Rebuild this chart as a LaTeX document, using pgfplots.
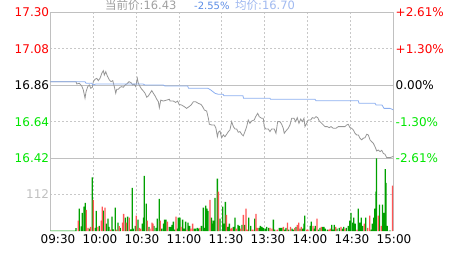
\documentclass[border=0pt]{standalone}
\usepackage{pgfplots}
\pgfplotsset{compat=1.18}
\usepackage{fontspec}
\setmainfont{DejaVu Sans}
\newfontfamily\cjk{Noto Sans CJK SC}
\definecolor{gridc}{RGB}{200,200,200}
\definecolor{framec}{RGB}{192,192,192}
\definecolor{upred}{RGB}{255,0,0}
\definecolor{dngreen}{RGB}{0,230,0}
\definecolor{barg}{RGB}{0,160,0}
\definecolor{barr}{RGB}{255,85,85}
\definecolor{pricec}{RGB}{150,150,150}
\definecolor{avgc}{RGB}{140,175,240}
\definecolor{ttlgray}{RGB}{160,160,160}
\definecolor{ttlblue}{RGB}{90,140,230}
\definecolor{ttllblue}{RGB}{160,185,240}
\definecolor{volgray}{RGB}{192,192,192}
\begin{document}
\begin{tikzpicture}[x=1pt,y=1pt,every node/.style={font=\fontsize{12}{14}\selectfont, inner sep=0pt}]
\useasboundingbox (0,0) rectangle (463,255);
\pgfplotsset{
  mygrid/.style={grid=major, major grid style={dash pattern=on 2pt off 2pt, draw=gridc, line width=0.7pt},
    major tick length=0pt, xticklabels={}, yticklabels={}},
}
% ---------- price panel ----------
\begin{axis}[at={(50.3pt,96.7pt)}, anchor=south west, width=343pt, height=146pt, scale only axis,
  xmin=0, xmax=240, ymin=16.42, ymax=17.30,
  xtick={30,60,...,210}, ytick={17.08,16.64},
  extra y ticks={16.86}, extra y tick labels={},
  extra y tick style={major grid style={solid, draw=framec, line width=0.8pt}},
  mygrid,
  axis line style={draw=framec, line width=0.8pt}]
\addplot[pricec, line width=0.8pt] coordinates {
(0,16.882) (18.0,16.882) (18.5,16.868) (20.3,16.872) (22.0,16.856) (23.1,16.832) (24.3,16.782) (25.0,16.821) (26.2,16.852) (27.3,16.862) (28.3,16.842) (29.4,16.848) (30.1,16.882) (31.3,16.896) (32.5,16.902) (33.6,16.888) (34.8,16.902) (36.0,16.932) (37.1,16.948) (37.8,16.922) (38.8,16.942) (39.9,16.916) (41.3,16.892) (42.5,16.882) (43.7,16.888) (44.8,16.852) (45.8,16.812) (46.5,16.836) (47.6,16.836) (48.8,16.848) (50.0,16.852) (51.1,16.848) (52.3,16.862) (53.5,16.868) (55.1,16.882) (56.5,16.876) (57.7,16.862) (58.6,16.868) (59.8,16.852) (60.9,16.902) (61.6,16.872) (62.8,16.852) (64.0,16.836) (65.1,16.826) (66.3,16.812) (67.5,16.788) (68.6,16.796) (69.8,16.812) (71.0,16.828) (72.1,16.812) (73.3,16.796) (74.5,16.776) (75.6,16.761) (76.3,16.725) (77.3,16.771) (79.1,16.765) (81.5,16.771) (83.3,16.776) (83.8,16.765) (86.1,16.765) (87.7,16.757) (89.1,16.765) (90.1,16.745) (91.9,16.741) (93.8,16.731) (95.4,16.721) (97.0,16.731) (98.5,16.741) (100.1,16.761) (101.7,16.761) (103.6,16.751) (105.4,16.745) (106.6,16.731) (107.8,16.711) (109.4,16.705) (110.6,16.661) (111.3,16.625) (112.9,16.621) (114.8,16.621) (115.9,16.601) (116.9,16.550) (117.6,16.577) (118.7,16.585) (119.9,16.544) (121.1,16.561) (122.2,16.550) (123.4,16.565) (124.6,16.581) (125.7,16.591) (126.9,16.641) (128.1,16.611) (129.2,16.597) (130.4,16.597) (131.5,16.577) (132.7,16.581) (133.9,16.565) (135.0,16.555) (136.2,16.581) (137.4,16.611) (138.5,16.651) (139.7,16.631) (140.9,16.645) (142.7,16.651) (143.7,16.671) (145.1,16.691) (146.2,16.671) (147.9,16.661) (149.0,16.661) (149.7,16.611) (150.7,16.597) (152.5,16.597) (153.7,16.581) (154.9,16.597) (156.7,16.597) (157.9,16.571) (159.1,16.641) (160.7,16.641) (161.9,16.625) (163.0,16.601) (163.7,16.571) (164.9,16.585) (166.5,16.601) (167.7,16.621) (168.9,16.661) (170.5,16.661) (171.7,16.641) (172.8,16.665) (174.0,16.631) (175.2,16.657) (176.3,16.641) (177.5,16.661) (178.2,16.611) (179.4,16.631) (180.5,16.651) (182.2,16.651) (183.3,16.665) (184.7,16.661) (185.9,16.671) (187.1,16.665) (188.2,16.645) (189.9,16.631) (191.0,16.621) (192.2,16.611) (193.8,16.611) (195.2,16.605) (196.4,16.611) (198.0,16.601) (199.9,16.601) (201.5,16.611) (203.9,16.611) (206.2,16.611) (207.4,16.621) (208.5,16.625) (209.7,16.605) (210.9,16.601) (212.0,16.591) (213.2,16.571) (214.4,16.561) (215.5,16.561) (216.7,16.541) (217.9,16.531) (219.0,16.541) (220.2,16.544) (221.4,16.565) (222.5,16.561) (223.7,16.531) (224.9,16.520) (226.0,16.511) (227.2,16.490) (228.4,16.464) (229.5,16.470) (230.7,16.460) (231.9,16.468) (233.0,16.450) (234.2,16.444) (235.4,16.424) (237.7,16.424) (239.6,16.430) (240,16.430)
};
\addplot[avgc, line width=0.8pt] coordinates {
(0,16.882) (24.3,16.882) (25.0,16.872) (29.0,16.872) (29.9,16.862) (32.0,16.868) (64.9,16.868) (66.2,16.862) (78.9,16.862) (80.3,16.856) (96.1,16.856) (96.7,16.842) (110.3,16.842) (112.4,16.831) (115.2,16.812) (117.4,16.806) (120.9,16.806) (121.5,16.797) (134.8,16.797) (135.2,16.782) (153.7,16.782) (154.1,16.776) (185.2,16.776) (185.9,16.767) (215.5,16.767) (216.0,16.752) (227.2,16.752) (227.9,16.741) (232.1,16.741) (233.5,16.721) (237.7,16.721) (240,16.712)
};
\end{axis}
% ---------- volume panel ----------
\begin{axis}[at={(50.3pt,24pt)}, anchor=south west, width=343pt, height=72.7pt, scale only axis,
  xmin=0, xmax=240, ymin=0, ymax=224,
  xtick={30,60,...,210}, ytick={112},
  extra x ticks={0,240}, extra x tick labels={},
  extra x tick style={major grid style={solid, draw=framec, line width=0.8pt}},
  mygrid,
  axis line style={draw=none}]
\addplot[ybar, bar width=1.3pt, bar shift=0pt, fill=barg, draw=none] coordinates {
(0,1.5) (1,1.5) (2,1.5) (3,1.5) (4,1.5) (5,1.5) (6,1.5) (7,1.5) (8,1.5) (9,1.5) (10,1.5) (11,1.5) (12,1.5) (13,1.5) (14,1.5) (15,1.5) (16,1.5) (17,1.5)
(18.0,9) (20.3,69) (21.7,14) (22.4,56) (23.6,75) (24.5,87) (27.3,7) (29.4,165) (31.5,10) (32.2,62) (34.3,16) (37.1,63) (39.2,23) (40.4,38) (41.1,13) (43.2,44) (44.1,5) (45.5,72) (47.4,26) (49.0,10) (52.5,41) (54.1,44) (56.2,5) (57.4,133) (58.1,7) (59.5,16) (61.4,35) (64.4,23) (65.3,41) (65.8,170) (67.2,84) (69.1,13) (72.6,16) (74.0,10) (74.9,38) (76.3,99) (77.9,7) (79.3,23) (80.0,35) (80.9,35) (83.3,13) (84.2,13) (85.1,19) (86.1,29) (87.0,4) (88.9,7) (89.6,41) (90.7,41) (92.6,35) (93.5,7) (94.7,29) (96.3,26) (97.5,16) (100.5,7) (101.5,7) (102.9,10) (103.8,7) (105.7,16) (107.1,72) (108.0,10) (108.7,78) (109.6,69) (110.3,62) (112.7,41) (113.6,23) (114.1,32) (115.2,102) (116.9,161) (118.7,38)
(120.6,75) (121.3,23) (122.5,90) (124.1,13) (125.3,23) (128.1,13) (129.2,41) (131.3,19) (132.3,16) (134.1,19) (136.0,19) (138.8,41) (140.2,16) (143.0,38) (146.0,10) (147.0,16) (148.1,13) (149.1,10) (150.5,7) (151.4,13) (152.8,10) (156.1,35) (157.0,4) (160.3,10) (161.2,10) (162.1,10) (164.0,4) (164.9,10) (166.8,4) (169.1,7) (170.0,4) (171.9,13) (174.7,7) (176.6,7) (177.5,23) (178.0,47) (181.9,16) (182.6,29) (184.5,7) (185.4,16) (187.5,4) (188.7,10) (190.6,13) (191.5,13) (192.4,7) (193.8,4) (196.9,19) (197.8,4) (198.7,19) (200.6,7) (202.2,10) (204.3,7) (205.3,13) (207.1,10) (208.5,16) (209.5,32) (210.4,56) (211.6,26) (212.3,41) (213.4,23) (215.5,69) (216.5,26) (217.6,41) (218.6,16) (220.7,41) (224.4,4) (225.3,23) (226.3,41) (227.0,69) (227.9,121) (228.3,224) (230.4,81) (232.5,81) (233.5,56) (234.4,191) (234.9,148) (235.8,16) (237.2,1) (238.1,1)
};
\addplot[ybar, bar width=1.3pt, bar shift=0pt, fill=barr, draw=none] coordinates {
(19.6,32) (25.2,65) (26.4,10) (28.2,13) (30.1,96) (33.4,13) (35.7,32) (36.4,75) (38.3,72) (42.2,4) (46.2,4) (48.3,15) (50.6,26) (51.3,53) (53.2,26) (55.3,41) (60.2,47) (62.3,10) (63.2,7) (67.9,32) (69.8,7) (71.2,26) (71.9,23) (77.0,32) (81.9,29) (87.9,44) (91.4,13) (95.6,4) (98.2,7) (99.6,23) (104.7,10) (111.7,96) (117.6,121)
(123.2,50) (126.2,7) (127.1,10) (130.2,7) (133.2,7) (135.1,50) (136.9,69) (137.9,4) (141.1,4) (141.8,4) (143.9,53) (144.9,10) (153.7,10) (155.1,7) (157.9,1) (158.9,4) (163.1,13) (165.9,26) (168.0,13) (171.0,10) (172.8,19) (173.8,26) (175.6,13) (179.4,4) (180.3,4) (183.8,16) (186.6,38) (189.6,13) (194.8,4) (195.9,7) (199.7,13) (203.4,13) (206.2,7) (214.6,4) (219.7,23) (222.1,10) (223.5,47) (229.5,47) (231.6,16) (239.5,140)
};
\end{axis}
% ---------- left labels ----------
\node[anchor=east, text=upred] at (49.3,242.7) {17.30};
\node[anchor=east, text=upred] at (49.3,206.2) {17.08};
\node[anchor=east, text=black] at (49.3,169.7) {16.86};
\node[anchor=east, text=dngreen] at (49.3,133.2) {16.64};
\node[anchor=east, text=dngreen] at (49.3,96.7) {16.42};
\node[anchor=east, text=volgray] at (49.3,60.7) {112};
% ---------- right labels ----------
\node[anchor=west, text=upred] at (395.5,242.7) {+2.61\%};
\node[anchor=west, text=upred] at (395.5,206.2) {+1.30\%};
\node[anchor=west, text=black] at (395.5,169.7) {0.00\%};
\node[anchor=west, text=dngreen] at (395.5,133.2) {-1.30\%};
\node[anchor=west, text=dngreen] at (395.5,96.7) {-2.61\%};
% ---------- time labels ----------
\foreach \xx/\tt in {58/09:30,100/10:00,142/10:30,184/11:00,226/11:30,268/13:30,310/14:00,352/14:30,394/15:00}
  \node[anchor=center] at (\xx,15.7) {\tt};
% ---------- title ----------
\node[anchor=base west, text=ttlgray, font=\fontsize{11.5}{13}\selectfont] at (105,245.5) {{\cjk 当前价}:16.43};
\node[anchor=base west, text=ttlblue, font=\fontsize{10}{13}\selectfont] at (194,245.5) {-2.55\%};
\node[anchor=base west, text=ttllblue, font=\fontsize{11.5}{13}\selectfont] at (235,245.5) {{\cjk 均价}:16.70};
\end{tikzpicture}
\end{document}
